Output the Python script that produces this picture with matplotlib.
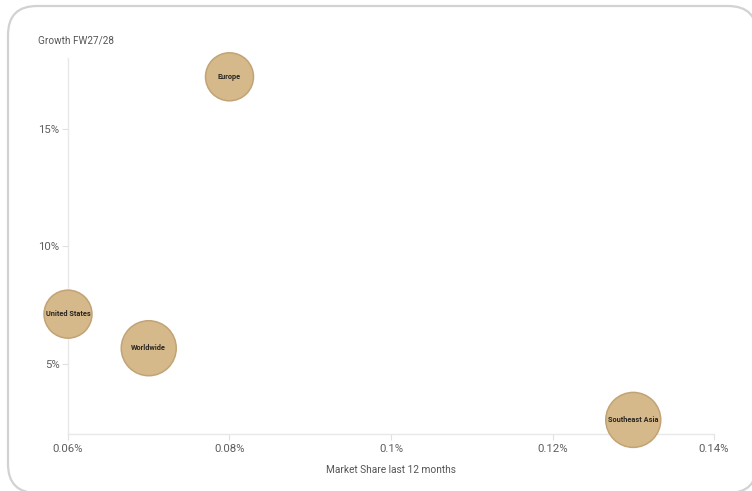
import matplotlib.pyplot as plt
from matplotlib.patches import FancyBboxPatch
import numpy as np

# data
regions = ["Europe", "United States", "Worldwide", "Southeast Asia"]
market_share = [0.08, 0.06, 0.07, 0.13]     # %
growth = [17.2, 7.1, 5.65, 2.6]             # %
volume = [24, 24, 27.5, 27.5]               # bubble radius scale (relative)

x_ticks = [0.06, 0.08, 0.1, 0.12, 0.14]
x_tick_labels = ["0.06%", "0.08%", "0.1%", "0.12%", "0.14%"]
y_ticks = [5, 10, 15]
y_tick_labels = ["5%", "10%", "15%"]

plt.rcParams['font.family'] = ['Roboto', 'DejaVu Sans']

W, H, DPI = 752, 491, 100
fig = plt.figure(figsize=(W / DPI, H / DPI), dpi=DPI)

# card with rounded border (runs slightly past the right/bottom edge), behind the axes
card = FancyBboxPatch((8 / DPI, -2 / DPI), 749 / DPI, 487 / DPI,
                      boxstyle="round,pad=0,rounding_size=0.29",
                      transform=fig.dpi_scale_trans, facecolor="white",
                      edgecolor="#d2d2d2", linewidth=1.6, zorder=-10)
fig.patches.append(card)

ax = fig.add_axes([68 / W, 1 - 434 / H, (714 - 68) / W, (434 - 58) / H])
ax.set_facecolor("none")
ax.set_xlim(0.06, 0.14)
ax.set_ylim(2, 18)

# bubble radius in px -> marker area in pt^2
px2pt = 72 / DPI
sizes = [(2 * r * px2pt) ** 2 for r in volume]
ax.scatter(market_share, growth, s=sizes, color="#d5b98b",
           edgecolor="#c2a375", linewidth=1.1, zorder=3, clip_on=False)
for name, xv, yv in zip(regions, market_share, growth):
    ax.text(xv, yv, name, ha="center", va="center", fontsize=5.3,
            fontweight="bold", color="#2a2622", zorder=4)

for side in ["top", "right"]:
    ax.spines[side].set_visible(False)
ax.spines["left"].set_color("#e8e8e8")
ax.spines["bottom"].set_color("#e8e8e8")
ax.spines["left"].set_linewidth(1)
ax.spines["bottom"].set_linewidth(1)

ax.set_xticks(x_ticks)
ax.set_xticklabels(x_tick_labels)
ax.set_yticks(y_ticks)
ax.set_yticklabels(y_tick_labels)
ax.tick_params(axis="both", colors="#e0e0e0", labelcolor="#5e5e5e",
               labelsize=8.2, length=4, width=0.8)
ax.tick_params(axis="x", pad=3)
ax.tick_params(axis="y", pad=2)

ax.set_xlabel("Market Share last 12 months", fontsize=7.3, color="#555555",
              labelpad=8)
fig.text(38 / W, 1 - 40 / H, "Growth FW27/28", fontsize=7.2, color="#555555",
         ha="left", va="center")

fig.savefig("out.png", dpi=DPI)
